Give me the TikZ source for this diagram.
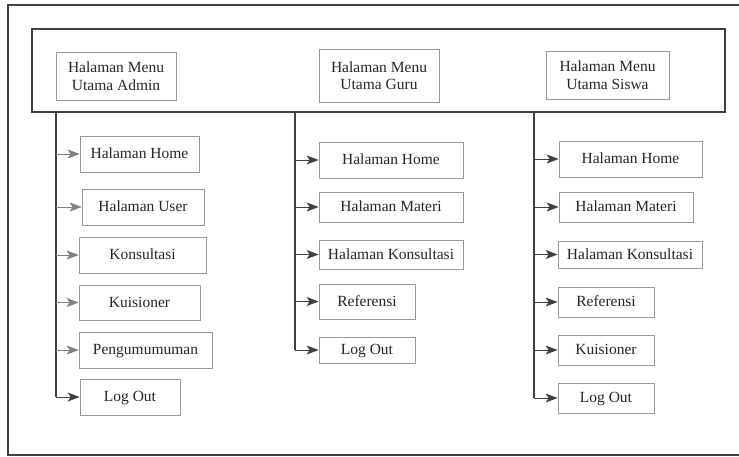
\documentclass[tikz,border=0pt]{standalone}
\usepackage{fontspec}
\setmainfont{Liberation Serif}
\usetikzlibrary{arrows.meta}
\begin{document}
\begin{tikzpicture}[x=1pt,y=-1pt,
  menubox/.style={draw=black!40, line width=0.7pt, inner sep=0pt,
    font=\fontsize{15.5}{17.5}\selectfont, text=black!85,
    text height=11.5pt, text depth=2.5pt},
  mainbox/.style={menubox, align=center, text height=, text depth=},
  frame/.style={draw=black!75, line width=1.1pt},
  trunk/.style={draw=black!75, line width=1.1pt},
  arr/.style={draw=black!75, line width=1pt,
    -{Stealth[length=12pt,width=9pt,inset=3pt]}}]
\useasboundingbox (0,0) rectangle (739,456);
% outer frame (right side runs off the page)
\draw[frame] (739,5) -- (8,5) -- (8,455) -- (739,455);
% band holding the three main menus
\draw[frame] (32,29) rectangle (725,112);

% main menu pages
\node[mainbox, minimum width=120pt, minimum height=48pt] (admin) at (116,76) {Halaman Menu\\Utama Admin};
\node[mainbox, minimum width=120pt, minimum height=53pt] (guru) at (379,75.5) {Halaman Menu\\Utama Guru};
\node[mainbox, minimum width=123pt, minimum height=48pt] (siswa) at (607.5,75) {Halaman Menu\\Utama Siswa};

% admin sub pages
\node[menubox, minimum width=119pt, minimum height=36pt] (aHome) at (139.5,154) {Halaman Home};
\node[menubox, minimum width=122pt, minimum height=36pt] (aUser) at (143,207) {Halaman User};
\node[menubox, minimum width=127pt, minimum height=36pt] (aKons) at (142.5,255) {Konsultasi};
\node[menubox, minimum width=121pt, minimum height=35pt] (aKuis) at (139.5,302.5) {Kuisioner};
\node[menubox, minimum width=133pt, minimum height=36pt] (aPeng) at (145.5,350) {Pengumumuman};
\node[menubox, minimum width=100pt, minimum height=36pt] (aOut) at (130,397) {Log Out};

% guru sub pages
\node[menubox, minimum width=144pt, minimum height=36pt] (gHome) at (391,160) {Halaman Home};
\node[menubox, minimum width=144pt, minimum height=30pt] (gMat) at (391,207) {Halaman Materi};
\node[menubox, minimum width=144pt, minimum height=29pt] (gKons) at (391,254.5) {Halaman Konsultasi};
\node[menubox, minimum width=96pt, minimum height=35pt] (gRef) at (367,301.5) {Referensi};
\node[menubox, minimum width=96pt, minimum height=26pt] (gOut) at (367,350) {Log Out};

% siswa sub pages
\node[menubox, minimum width=143pt, minimum height=36pt] (sHome) at (630.5,159) {Halaman Home};
\node[menubox, minimum width=134pt, minimum height=30pt] (sMat) at (626,207) {Halaman Materi};
\node[menubox, minimum width=144pt, minimum height=27pt] (sKons) at (630,254.5) {Halaman Konsultasi};
\node[menubox, minimum width=96pt, minimum height=30pt] (sRef) at (606,302) {Referensi};
\node[menubox, minimum width=96pt, minimum height=30pt] (sKuis) at (606,350) {Kuisioner};
\node[menubox, minimum width=96pt, minimum height=30pt] (sOut) at (606,398) {Log Out};

% trunk start points on the band's lower edge
\coordinate (tA) at (56,112);
\coordinate (tG) at (295,112);
\coordinate (tS) at (534,112);

% admin branches
\draw[trunk] (tA) -- (tA |- aOut.west);
\draw[arr] (tA |- aOut.west) -- (aOut.west);
\foreach \n in {aHome,aUser,aKons,aKuis,aPeng}
  \draw[arr, draw=black!50, line width=0.6pt] (tA |- \n.west) -- (\n.west);

% guru branches
\draw[trunk] (tG) -- (tG |- gOut.west);
\foreach \n in {gHome,gMat,gKons,gRef,gOut}
  \draw[arr] (tG |- \n.west) -- (\n.west);

% siswa branches
\draw[trunk] (tS) -- (tS |- sOut.west);
\foreach \n in {sHome,sMat,sKons,sRef,sKuis,sOut}
  \draw[arr] (tS |- \n.west) -- (\n.west);
\end{tikzpicture}
\end{document}
